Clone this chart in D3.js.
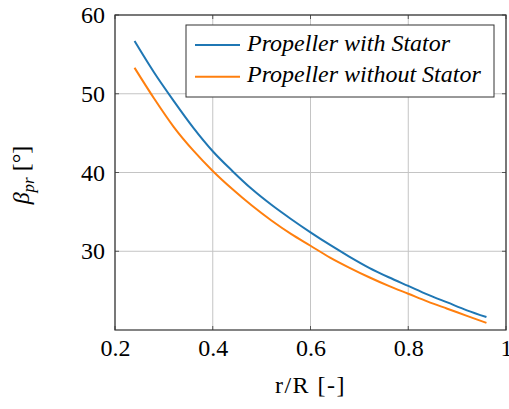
<!DOCTYPE html>
<html>
<head>
<meta charset="utf-8">
<script src="https://cdn.jsdelivr.net/npm/d3@7"></script>
<style>
  body { margin: 0; background: #fff; }
</style>
</head>
<body>
<script>
(function() {
  var width = 509, height = 409;
  var margin = { top: 15, right: 3, bottom: 79, left: 115 };
  var innerW = width - margin.left - margin.right;
  var innerH = height - margin.top - margin.bottom;
  var serif = "'Liberation Serif'";

  var radius = [0.24, 0.28, 0.32, 0.36, 0.40, 0.44, 0.48, 0.52, 0.56, 0.60,
                0.64, 0.68, 0.72, 0.76, 0.80, 0.84, 0.88, 0.92, 0.96];
  var withStator = [56.7, 52.7, 49.1, 45.7, 42.7, 40.2, 37.9, 35.9, 34.1, 32.4,
                    30.8, 29.3, 27.9, 26.7, 25.6, 24.5, 23.5, 22.5, 21.65];
  var withoutStator = [53.3, 49.4, 45.8, 42.8, 40.2, 37.9, 35.8, 33.9, 32.2, 30.7,
                       29.2, 27.9, 26.7, 25.6, 24.6, 23.6, 22.7, 21.8, 20.9];
  var seriesNames = ["Propeller with Stator", "Propeller without Stator"];
  var colors = ["#1f77b4", "#ff7f0e"];
  var xTicks = [0.2, 0.4, 0.6, 0.8, 1];
  var yTicks = [30, 40, 50, 60];

  var svg = d3.select("body").append("svg")
    .attr("width", width).attr("height", height);
  var g = svg.append("g")
    .attr("transform", "translate(" + margin.left + "," + margin.top + ")");

  var x = d3.scaleLinear().domain([0.2, 1]).range([0, innerW]);
  var y = d3.scaleLinear().domain([20, 60]).range([innerH, 0]);

  // grid
  g.selectAll(".gx").data(xTicks).enter().append("line")
    .attr("x1", function(d) { return x(d); }).attr("x2", function(d) { return x(d); })
    .attr("y1", 0).attr("y2", innerH)
    .style("stroke", "#c4c4c4").style("stroke-width", 1);
  g.selectAll(".gy").data(yTicks).enter().append("line")
    .attr("y1", function(d) { return y(d); }).attr("y2", function(d) { return y(d); })
    .attr("x1", 0).attr("x2", innerW)
    .style("stroke", "#c4c4c4").style("stroke-width", 1);

  // inward ticks on all four sides
  var tk = 4;
  xTicks.forEach(function(d) {
    g.append("line").attr("x1", x(d)).attr("x2", x(d)).attr("y1", innerH).attr("y2", innerH - tk)
      .style("stroke", "#555");
    g.append("line").attr("x1", x(d)).attr("x2", x(d)).attr("y1", 0).attr("y2", tk)
      .style("stroke", "#555");
  });
  yTicks.forEach(function(d) {
    g.append("line").attr("y1", y(d)).attr("y2", y(d)).attr("x1", 0).attr("x2", tk)
      .style("stroke", "#555");
    g.append("line").attr("y1", y(d)).attr("y2", y(d)).attr("x1", innerW).attr("x2", innerW - tk)
      .style("stroke", "#555");
  });

  // tick labels via d3 axes (no domain / tick lines)
  var xAxis = g.append("g").attr("transform", "translate(0," + innerH + ")")
    .call(d3.axisBottom(x).tickValues(xTicks).tickSize(0).tickPadding(9)
      .tickFormat(function(d) { return d === 1 ? "1" : d3.format(".1f")(d); }));
  var yAxis = g.append("g")
    .call(d3.axisLeft(y).tickValues(yTicks).tickSize(0).tickPadding(10));
  [xAxis, yAxis].forEach(function(a) {
    a.select(".domain").remove();
    a.selectAll("text").attr("fill", "#000")
      .style("font-family", serif).style("font-size", "24px");
  });

  // curves
  var line = d3.line()
    .x(function(d) { return x(d[0]); })
    .y(function(d) { return y(d[1]); })
    .curve(d3.curveMonotoneX);
  [withStator, withoutStator].forEach(function(vals, i) {
    g.append("path")
      .datum(radius.map(function(r, j) { return [r, vals[j]]; }))
      .attr("d", line)
      .style("fill", "none").style("stroke", colors[i]).style("stroke-width", 2);
  });

  // frame
  g.append("rect").attr("x", 0).attr("y", 0).attr("width", innerW).attr("height", innerH)
    .style("fill", "none").style("stroke", "#333").style("stroke-width", 1.2);

  // legend
  var lg = svg.append("g").attr("transform", "translate(186,25)");
  lg.append("rect").attr("width", 308).attr("height", 72)
    .style("fill", "#fff").style("stroke", "#333").style("stroke-width", 1);
  seriesNames.forEach(function(name, i) {
    var yy = 20 + i * 31.7;
    lg.append("line").attr("x1", 9).attr("x2", 54).attr("y1", yy).attr("y2", yy)
      .style("stroke", colors[i]).style("stroke-width", 2);
    lg.append("text").attr("x", 61).attr("y", yy + 5.5)
      .style("font-family", serif).style("font-size", "24px").style("font-style", "italic")
      .text(name);
  });

  // axis titles
  svg.append("text").attr("x", margin.left + innerW / 2).attr("y", 393)
    .attr("text-anchor", "middle")
    .style("font-family", serif).style("font-size", "24px").style("letter-spacing", "1.5px")
    .text("r/R [-]");
  var yl = svg.append("text")
    .attr("transform", "translate(29,175) rotate(-90)")
    .attr("text-anchor", "middle")
    .style("font-family", serif).style("font-size", "24px");
  yl.append("tspan").style("font-style", "italic").text("β");
  yl.append("tspan").style("font-style", "italic").style("font-size", "17px")
    .attr("dy", 5).text("pr");
  yl.append("tspan").attr("dy", -5).text(" [°]");
})();
</script>
</body>
</html>
